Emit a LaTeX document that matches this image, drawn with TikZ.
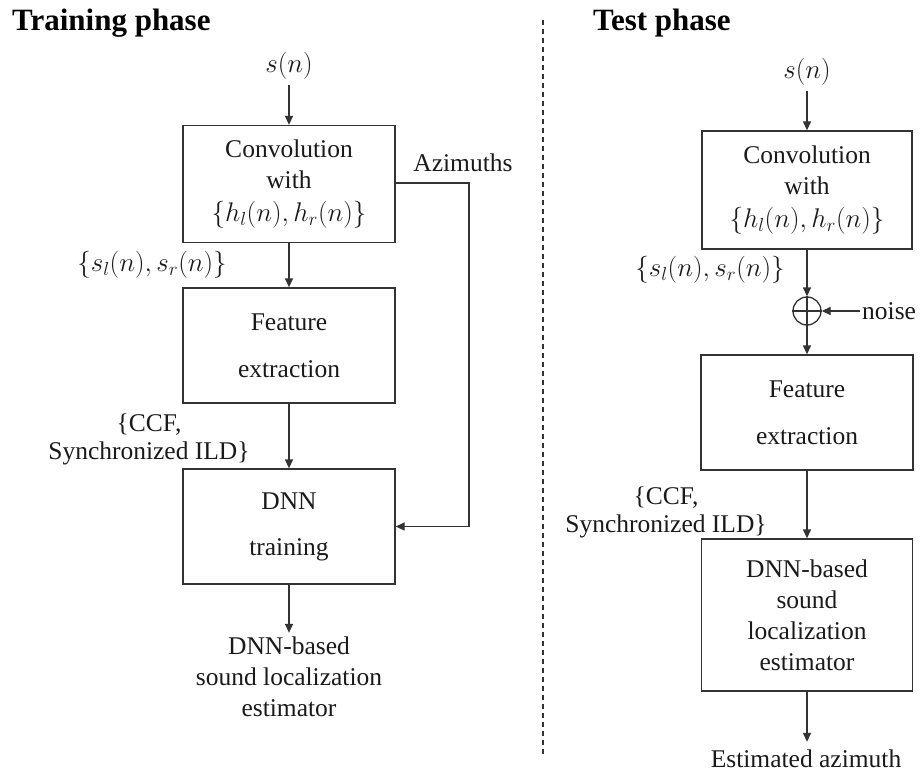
\RequirePackage{fix-cm}
\documentclass[tikz,border=0pt]{standalone}
\usepackage{fontspec}
\setmainfont{Liberation Serif}
\usetikzlibrary{arrows.meta}
\definecolor{ln}{HTML}{333333}
\definecolor{tx}{HTML}{1A1A1A}
\begin{document}
\begin{tikzpicture}[x=1pt,y=-1pt,
  every node/.style={text=tx, font=\fontsize{25.5}{31}\selectfont},
  blk/.style={draw=ln, line width=1.3pt, minimum width=212pt, inner sep=0pt, align=center},
  lbl/.style={align=center, inner sep=2pt},
  mth/.style={font=\fontsize{27}{31}\selectfont},
  arr/.style={draw=ln, line width=1.3pt, -{Triangle[length=9pt,width=8pt]}},
  wire/.style={draw=ln, line width=1.3pt},
  ttl/.style={font=\fontsize{31}{36}\selectfont\bfseries, anchor=base west, inner sep=0pt, text=black},
]
\useasboundingbox (0,0) rectangle (920,773);

% ---------- Training phase ----------
\node[ttl] (t1) at (12,31) {Training phase};
\node[lbl, mth, inner sep=5pt] (s1) at (289,66) {$s(n)$};
\node[blk, minimum height=117pt] (conv1) at (289,184) {Convolution\\with\\[2pt]{\fontsize{27}{31}\selectfont$\{h_l(n),h_r(n)\}$}};
\node[lbl, mth] (sl1) at (152,265) {$\{s_l(n),s_r(n)\}$};
\node[blk, minimum height=115pt] (feat1) at (289,345.5) {Feature\\[16pt]extraction};
\node[lbl, font=\fontsize{25.5}{28}\selectfont] (ccf1) at (149,439) {\{CCF,\\Synchronized ILD\}};
\node[blk, minimum height=115pt] (dnn1) at (289,526.5) {DNN\\[15pt]training};
\node[lbl, inner sep=0pt] (out1) at (289,677) {DNN-based\\sound localization\\estimator};
\node[lbl] (az) at (463,163) {Azimuths};
\coordinate (azc1) at (469,183);
\coordinate (azc2) at (469,526.5);

\draw[arr] (s1) -- (conv1);
\draw[arr] (conv1) -- (feat1);
\draw[arr] (feat1) -- (dnn1);
\draw[arr, shorten >=4pt] (dnn1.south) -- (out1.north);
\draw[wire] (conv1.east |- azc1) -- (azc1) -- (azc2);
\draw[arr] (azc2) -- (dnn1.east);

% ---------- divider ----------
\coordinate (d1) at (543,20);
\coordinate (d2) at (543,757);
\draw[wire, dash pattern=on 5pt off 4pt] (d1) -- (d2);

% ---------- Test phase ----------
\node[ttl] (t2) at (593,31) {Test phase};
\node[lbl, mth, inner sep=5pt] (s2) at (807,72) {$s(n)$};
\node[blk, minimum width=210pt, minimum height=118pt] (conv2) at (807,190) {Convolution\\with\\[2pt]{\fontsize{27}{31}\selectfont$\{h_l(n),h_r(n)\}$}};
\node[lbl, mth] (sl2) at (710,270) {$\{s_l(n),s_r(n)\}$};
\node[circle, draw=ln, line width=1.3pt, minimum size=28pt, inner sep=0pt] (add) at (807,311) {};
\draw[wire] (add.north) -- (add.south) (add.west) -- (add.east);
\node[lbl, anchor=west] (noise) at (860,311) {noise};
\node[blk, minimum height=115pt] (feat2) at (807,412.5) {Feature\\[16pt]extraction};
\node[lbl, font=\fontsize{25.5}{28}\selectfont] (ccf2) at (666,512) {\{CCF,\\Synchronized ILD\}};
\node[blk, minimum width=211pt, minimum height=152pt] (dnn2) at (807,615) {DNN-based\\sound\\localization\\estimator};
\node[lbl, inner sep=0pt] (out2) at (806,759) {Estimated azimuth};

\draw[arr] (s2) -- (conv2);
\draw[arr] (conv2) -- (add);
\draw[arr] (noise) -- (add);
\draw[arr] (add) -- (feat2);
\draw[arr] (feat2) -- (dnn2);
\draw[arr, shorten >=8pt] (dnn2.south) -- (dnn2.south |- out2.north);
\end{tikzpicture}
\end{document}
